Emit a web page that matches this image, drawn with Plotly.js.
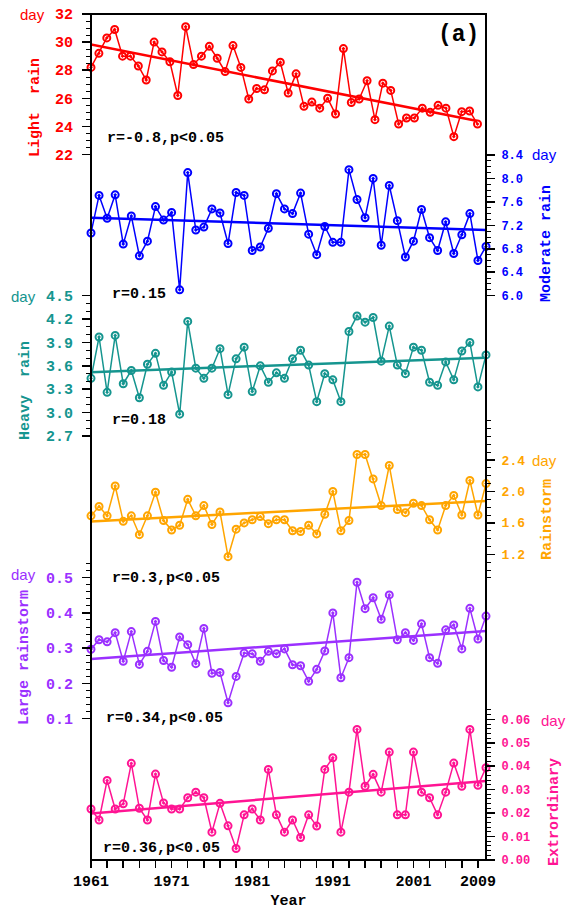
<!DOCTYPE html>
<html>
<head>
<meta charset="utf-8">
<script src="https://cdn.plot.ly/plotly-3.0.1.min.js"></script>
<style>
  html, body { margin: 0; padding: 0; background: #ffffff; }
  #chart { width: 566px; height: 912px; }
</style>
</head>
<body>
<div id="chart"></div>
<script>
// Annual rain days by intensity class, 1961-2010
const years = [1961,1962,1963,1964,1965,1966,1967,1968,1969,1970,
               1971,1972,1973,1974,1975,1976,1977,1978,1979,1980,
               1981,1982,1983,1984,1985,1986,1987,1988,1989,1990,
               1991,1992,1993,1994,1995,1996,1997,1998,1999,2000,
               2001,2002,2003,2004,2005,2006,2007,2008,2009,2010];

const lightRain = [28.2,29.2,30.3,30.9,29.0,29.0,28.3,27.3,30.0,29.3,
                   28.6,26.2,31.1,28.4,29.0,29.7,28.85,27.9,29.75,28.2,
                   25.95,26.7,26.6,27.95,28.57,26.37,27.74,25.43,25.73,25.3,
                   26.0,24.88,29.54,25.7,25.95,27.25,24.48,27.08,26.56,24.17,
                   24.6,24.6,25.3,25.0,25.5,25.3,23.27,25.05,25.1,24.17];

const moderateRain = [7.07,7.71,7.32,7.72,6.88,7.36,6.68,6.93,7.52,7.29,
                      7.42,6.10,8.10,7.12,7.17,7.48,7.41,6.89,7.76,7.71,
                      6.77,6.83,7.15,7.74,7.48,7.40,7.75,7.05,6.70,7.18,
                      6.91,6.91,8.15,7.64,7.33,8.00,6.86,7.88,7.28,6.66,
                      6.93,7.47,6.99,6.77,7.26,6.72,7.04,7.40,6.60,6.84];

const heavyRain = [3.44,3.97,3.26,3.99,3.37,3.54,3.19,3.62,3.76,3.35,
                   3.52,2.98,4.17,3.57,3.44,3.57,3.82,3.23,3.69,3.84,
                   3.27,3.60,3.39,3.51,3.44,3.69,3.80,3.61,3.14,3.50,
                   3.42,3.14,4.04,4.24,4.16,4.22,3.66,4.11,3.61,3.50,
                   3.84,3.80,3.39,3.35,3.65,3.42,3.79,3.90,3.33,3.74];

const rainstorm = [1.69,1.81,1.69,2.07,1.62,1.69,1.45,1.69,1.99,1.63,
                   1.51,1.57,1.90,1.69,1.82,1.58,1.74,1.17,1.52,1.60,
                   1.64,1.68,1.59,1.64,1.64,1.50,1.49,1.57,1.46,1.71,
                   2.00,1.50,1.63,2.47,2.47,2.16,1.82,2.33,1.77,1.73,
                   1.85,1.82,1.64,1.51,1.82,1.95,1.70,2.14,1.70,2.10];

const largeRainstorm = [0.297,0.324,0.318,0.344,0.263,0.347,0.254,0.291,0.376,0.265,
                        0.246,0.332,0.310,0.256,0.356,0.229,0.231,0.145,0.220,0.286,
                        0.284,0.263,0.291,0.284,0.298,0.253,0.250,0.206,0.240,0.292,
                        0.400,0.216,0.273,0.487,0.412,0.443,0.382,0.451,0.324,0.344,
                        0.322,0.369,0.273,0.257,0.352,0.366,0.298,0.413,0.326,0.391];

const extraordinary = [0.0217,0.0170,0.0339,0.0217,0.0239,0.0412,0.0220,0.0170,0.0366,0.0243,
                       0.0217,0.0217,0.0265,0.0289,0.0265,0.0118,0.0241,0.0145,0.0048,0.0192,
                       0.0217,0.0170,0.0386,0.0192,0.0118,0.0170,0.0095,0.0192,0.0144,0.0386,
                       0.0436,0.0118,0.0289,0.0557,0.0314,0.0365,0.0289,0.0460,0.0192,0.0192,
                       0.0460,0.0289,0.0265,0.0192,0.0289,0.0413,0.0314,0.0557,0.0318,0.0393];

// axis tick values and labels
const yearTickLabels = [1961, 1971, 1981, 1991, 2001, 2009];
const lightTicks = [22, 24, 26, 28, 30, 32];
const moderateTicks = [6.0, 6.4, 6.8, 7.2, 7.6, 8.0, 8.4];
const heavyTicks = [2.7, 3.0, 3.3, 3.6, 3.9, 4.2, 4.5];
const rainstormTicks = [1.2, 1.6, 2.0, 2.4];
const largeTicks = [0.1, 0.2, 0.3, 0.4, 0.5];
const extraTicks = [0.00, 0.01, 0.02, 0.03, 0.04, 0.05, 0.06];

const correlations = ['r=-0.8,p<0.05', 'r=0.15', 'r=0.18', 'r=0.3,p<0.05', 'r=0.34,p<0.05', 'r=0.36,p<0.05'];

// ---- helpers ----
function seq(a, b, step) {
  const out = [];
  const n = Math.round((b - a) / step);
  for (let i = 0; i <= n; i++) out.push(+(a + i * step).toFixed(6));
  return out;
}

// least-squares trend line evaluated at the first and last year
function trend(xs, ys) {
  const n = xs.length;
  let mx = 0, my = 0;
  for (let i = 0; i < n; i++) { mx += xs[i]; my += ys[i]; }
  mx /= n; my /= n;
  let sxy = 0, sxx = 0;
  for (let i = 0; i < n; i++) { sxy += (xs[i] - mx) * (ys[i] - my); sxx += (xs[i] - mx) ** 2; }
  const b = sxy / sxx, a = my - b * mx;
  const x0 = xs[0], x1 = xs[n - 1];
  return { x: [x0, x1], y: [a + b * x0, a + b * x1] };
}

// plot frame in pixels
const L = 91, R = 486, T = 14, B = 860;
const px = x => (x - L) / (R - L);
const py = y => (B - y) / (B - T);
// the light-rain panel is drawn slightly narrower than the others
const lightRight = 477.5;

const MONO = 'Liberation Mono, Courier New, monospace';
const SANS = 'Liberation Sans, Arial, sans-serif';

const C = {
  light: '#ff0000',
  moderate: '#0000ff',
  heavy: '#15958f',
  storm: '#ffa500',
  large: '#9b30ff',
  extra: '#ff1493'
};

function series(ys, color, xaxis, yaxis) {
  const t = trend(years, ys);
  return [
    {
      x: years, y: ys, xaxis: xaxis, yaxis: yaxis, type: 'scatter', mode: 'lines+markers',
      line: { color: color, width: 1.5 },
      marker: { symbol: 'circle-open-dot', size: 7, color: color, line: { color: color, width: 2 } },
      cliponaxis: false, hoverinfo: 'skip'
    },
    {
      x: t.x, y: t.y, xaxis: xaxis, yaxis: yaxis, type: 'scatter', mode: 'lines',
      line: { color: color, width: 2.5 }, hoverinfo: 'skip'
    }
  ];
}

const data = [].concat(
  series(moderateRain, C.moderate, 'x', 'y2'),
  series(heavyRain, C.heavy, 'x', 'y3'),
  series(rainstorm, C.storm, 'x', 'y4'),
  series(largeRainstorm, C.large, 'x', 'y5'),
  series(extraordinary, C.extra, 'x', 'y6'),
  series(lightRain, C.light, 'x2', 'y')
);

function yAxis(opts) {
  const base = {
    side: opts.side,
    range: opts.range,
    tickmode: 'array',
    tickvals: opts.ticks,
    ticktext: opts.ticks.map(v => v.toFixed(opts.dec)),
    ticks: 'outside', ticklen: 8, tickwidth: 1.5, tickcolor: '#000',
    ticklabelstandoff: opts.side === 'left' ? 6 : 4,
    minor: { tickmode: 'array', tickvals: opts.minor, ticks: 'outside', ticklen: 4, tickwidth: 1, tickcolor: '#000', showgrid: false },
    tickfont: { family: MONO, size: opts.fontSize, color: opts.color, weight: 'bold' },
    showgrid: false, zeroline: false, fixedrange: true, showline: false,
    automargin: false
  };
  if (opts.overlay) { base.overlaying = 'y'; base.anchor = 'x'; }
  return base;
}

const oddYears = seq(1961, 2009, 2);

const layout = {
  width: 566, height: 912,
  margin: { l: L, r: 566 - R, t: T, b: 912 - B, pad: 0 },
  paper_bgcolor: '#ffffff', plot_bgcolor: 'rgba(0,0,0,0)',
  showlegend: false,
  font: { family: MONO, color: '#000' },
  xaxis: {
    domain: [0, 1], anchor: 'y',
    range: [1961, 2010], tickmode: 'array', tickvals: oddYears,
    ticktext: oddYears.map(y => yearTickLabels.includes(y) ? String(y) : ''),
    ticks: 'outside', ticklen: 7, tickwidth: 1.5, tickcolor: '#000',
    tickfont: { family: MONO, size: 15, color: '#000', weight: 'bold' },
    showline: false,
    showgrid: false, zeroline: false, fixedrange: true, automargin: false,
    title: { text: 'Year', font: { family: MONO, size: 15, color: '#000', weight: 'bold' }, standoff: 4 }
  },
  xaxis2: { domain: [0, px(lightRight)], anchor: 'y', range: [1961, 2010], visible: false, fixedrange: true },
  yaxis: yAxis({ side: 'left', range: [-28.21, 32], ticks: lightTicks, dec: 0, minor: seq(22, 32, 0.5), fontSize: 15, color: C.light }),
  yaxis2: yAxis({ overlay: true, side: 'right', range: [-3.626, 10.805], ticks: moderateTicks, dec: 1, minor: seq(6.0, 8.4, 0.1), fontSize: 12, color: C.moderate }),
  yaxis3: yAxis({ overlay: true, side: 'left', range: [-2.740, 8.114], ticks: heavyTicks, dec: 1, minor: seq(2.7, 4.5, 0.1), fontSize: 15, color: C.heavy }),
  yaxis4: yAxis({ overlay: true, side: 'right', range: [-2.690, 8.076], ticks: rainstormTicks, dec: 1, minor: seq(0.9, 2.9, 0.1), fontSize: 13, color: C.storm }),
  yaxis5: yAxis({ overlay: true, side: 'left', range: [-0.3009, 2.099], ticks: largeTicks, dec: 1, minor: seq(0.1, 0.54, 0.02), fontSize: 15, color: C.large }),
  yaxis6: yAxis({ overlay: true, side: 'right', range: [-0.0001, 0.3614], ticks: extraTicks, dec: 2, minor: seq(0, 0.064, 0.002), fontSize: 12, color: C.extra }),
  shapes: [
    { type: 'rect', xref: 'paper', yref: 'paper', x0: 0, x1: 1, y0: 0, y1: 1,
      line: { color: '#000', width: 2 }, fillcolor: 'rgba(0,0,0,0)', layer: 'above' }
  ],
  annotations: []
};

function note(text, x, y, o) {
  o = o || {};
  layout.annotations.push({
    text: text, xref: 'paper', yref: 'paper', x: px(x), y: py(y),
    xanchor: o.xanchor || 'left', yanchor: 'middle', showarrow: false,
    textangle: o.angle || 0,
    font: { family: o.family || MONO, size: o.size || 15, color: o.color || '#000', weight: o.weight || 'bold' }
  });
}

// correlation notes inside each panel
note(correlations[0], 105, 138);
note(correlations[1], 110, 294);
note(correlations[2], 110, 420);
note(correlations[3], 110, 578);
note(correlations[4], 104, 718);
note(correlations[5], 101, 848);
note('(a)', 436, 35, { size: 23 });

// unit labels
note('day', 32, 14, { xanchor: 'center', family: SANS, weight: 'normal', color: C.light });
note('day', 544, 155, { xanchor: 'center', family: SANS, weight: 'normal', color: C.moderate });
note('day', 23, 296, { xanchor: 'center', family: SANS, weight: 'normal', color: C.heavy });
note('day', 544, 460, { xanchor: 'center', family: SANS, weight: 'normal', color: C.storm });
note('day', 23, 574, { xanchor: 'center', family: SANS, weight: 'normal', color: C.large });
note('day', 553, 720, { xanchor: 'center', family: SANS, weight: 'normal', color: C.extra });

// series names along the axes
note('Light\u00a0\u00a0rain', 35, 108, { xanchor: 'center', angle: -90, color: C.light });
note('Moderate rain', 547, 244, { xanchor: 'center', angle: -90, color: C.moderate });
note('Heavy\u00a0\u00a0rain', 25, 391, { xanchor: 'center', angle: -90, color: C.heavy });
note('Rainstorm', 547, 520, { xanchor: 'center', angle: -90, color: C.storm });
note('Large rainstorm', 24, 658, { xanchor: 'center', angle: -90, color: C.large });
note('Extrordinary', 554, 812, { xanchor: 'center', angle: -90, color: C.extra });

Plotly.newPlot('chart', data, layout, { displayModeBar: false, staticPlot: true });
</script>
</body>
</html>
